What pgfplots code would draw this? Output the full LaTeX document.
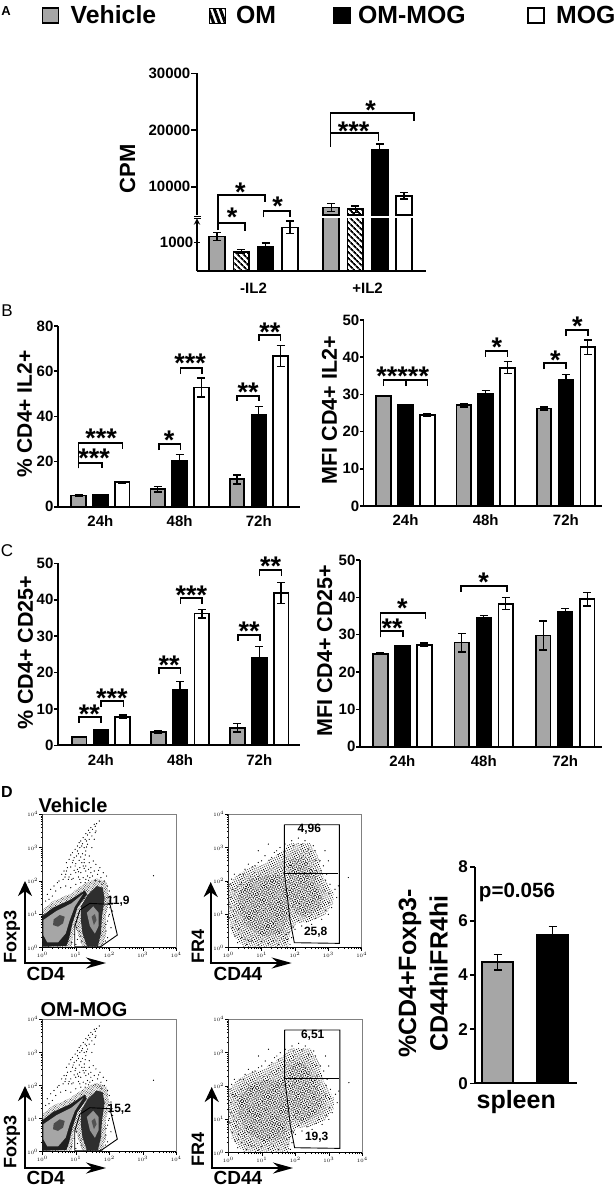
\documentclass[border=0pt]{standalone}
\usepackage{fontspec}
\setmainfont{Liberation Sans}
\usepackage{pgfplots}
\usepackage{pgfplotstable}
\pgfplotsset{compat=1.18}
\usetikzlibrary{patterns.meta,arrows.meta}
\definecolor{gBar}{gray}{0.65}
\newcommand\fs[1]{\fontsize{#1}{#1}\selectfont}
\newcommand\bfs[1]{\bfseries\fontsize{#1}{#1}\selectfont}
\pgfplotsset{
  pn/.style={anchor=south west, scale only axis, enlargelimits=false, clip=true,
    axis x line=bottom, axis y line=left, axis line style={-,line width=1.8pt,black},
    tick align=outside, major tick length=3.5pt, x tick style={draw=none},
    y tick style={black,line width=1.6pt}, scaled y ticks=false,
    ybar, /pgf/number format/assume math mode=true, /pgf/number format/1000 sep={},
    yticklabel style={font=\bfs{15}, inner sep=0.5pt},
    xticklabel style={font=\bfs{15}, yshift=-2pt},
    ylabel style={font=\bfs{21.5}, anchor=center},
  },
  eb/.style={/pgfplots/error bars/.cd, y dir=both, y explicit,
     error bar style={line width=1.3pt,black},
     error mark options={rotate=90,mark size=4pt,line width=1.3pt,black},/pgfplots/.cd},
  veh/.style={ybar, draw=black, line width=1.8pt, fill=gBar, eb},
  om/.style={ybar, draw=black, line width=1.8pt, pattern={Lines[angle=-45,distance=4pt,line width=1.8pt]}, pattern color=black, eb},
  omm/.style={ybar, draw=black, line width=1.8pt, fill=black, eb},
  mog/.style={ybar, draw=black, line width=1.8pt, fill=white, eb},
  flow/.style={anchor=south west, scale only axis, enlargelimits=false, clip=true,
    xmin=0,xmax=4,ymin=0,ymax=4, axis line style={gray,line width=.5pt},
    xtick={0,1,2,3,4}, ytick={0,1,2,3,4}, tick pos=left, tick align=outside,
    major tick length=3pt, minor tick length=1.5pt,
    tick style={black,line width=.5pt},
    minor xtick={0.301,0.477,0.602,0.699,0.778,0.845,0.903,0.954,1.301,1.477,1.602,1.699,1.778,1.845,1.903,1.954,2.301,2.477,2.602,2.699,2.778,2.845,2.903,2.954,3.301,3.477,3.602,3.699,3.778,3.845,3.903,3.954},
    minor ytick={0.301,0.477,0.602,0.699,0.778,0.845,0.903,0.954,1.301,1.477,1.602,1.699,1.778,1.845,1.903,1.954,2.301,2.477,2.602,2.699,2.778,2.845,2.903,2.954,3.301,3.477,3.602,3.699,3.778,3.845,3.903,3.954},
    xticklabels={$10^{0}$,$10^{1}$,$10^{2}$,$10^{3}$,$10^{4}$},
    yticklabels={$10^{0}$,$10^{1}$,$10^{2}$,$10^{3}$,$10^{4}$},
    tick label style={font=\fs{4.5}, inner sep=1pt},
  },
  dt/.style={only marks, mark=*, mark size=.33pt, black, mark options={draw=none,fill=black}},
}
% scattered events of the Foxp3/CD4 plots (decades)
\pgfplotstableread{
x y
1.7 3.8
1.62 3.72
1.55 3.7
1.58 3.64
1.45 3.6
1.5 3.55
1.38 3.52
1.42 3.45
1.3 3.42
1.35 3.38
1.22 3.3
1.28 3.25
1.15 3.2
1.1 3.15
1.2 3.12
1.05 3.05
1.12 3.0
0.98 2.95
0.9 2.85
1.05 2.9
0.85 2.78
0.95 2.7
1.02 2.75
0.8 2.65
0.72 2.55
0.9 2.55
1.1 2.62
1.2 2.82
1.3 2.9
0.75 2.4
0.85 2.42
0.65 2.3
0.98 2.45
1.12 2.4
1.25 2.55
1.4 2.75
1.48 3.0
1.35 3.1
1.18 2.55
0.58 2.2
0.7 2.2
0.85 2.2
1.0 2.25
1.15 2.25
1.3 2.3
1.45 2.4
1.6 2.5
1.75 2.1
1.85 2.0
1.92 2.15
1.65 2.2
1.5 2.15
1.35 2.15
0.5 2.0
0.45 1.95
0.62 2.05
0.78 2.05
0.92 2.08
1.08 2.12
1.22 2.1
1.38 2.02
1.58 2.02
1.72 1.98
1.95 1.85
2.0 1.7
2.05 1.5
2.08 1.3
2.1 1.1
2.0 1.0
1.95 0.8
2.05 0.6
1.9 0.5
1.95 0.3
0.35 1.85
0.25 1.75
0.15 1.6
0.3 1.55
3.32 2.16
0.1 1.4
0.2 1.45
0.4 1.7
0.55 1.8
0.7 1.85
0.85 1.8
1.0 1.9
1.15 1.95
1.28 1.95
1.42 2.1
1.78 1.9
2.0 1.4
2.02 1.2
1.98 0.95
1.9 0.7
1.88 0.2
1.0 0.1
1.05 0.25
0.95 0.4
1.1 0.5
1.02 0.6
1.18 0.2
1.15 0.35
0.88 0.15
0.98 0.7
1.25 2.65
1.4 2.55
1.05 2.35
1.22 2.45
0.88 2.05
1.32 3.2
1.55 3.25
1.6 3.5
1.48 3.35
1.18 3.05
1.25 3.0
1.32 3.02
1.08 2.82
1.15 2.72
1.28 2.78
0.92 2.62
1.0 2.52
1.3 2.45
1.52 2.6
0.95 2.32
1.08 2.28
1.25 2.38
1.38 2.35
1.55 2.3
0.72 2.3
0.8 2.12
0.68 2.12
1.12 2.05
1.3 2.05
1.45 2.25
1.68 2.32
1.82 2.25
1.72 2.4
1.58 3.45
1.4 3.25
}\fantable
% scattered events at the fringe of the FR4/CD44 plots (decades)
\pgfplotstableread{
x y
0.05 1.9
0.1 2.05
0.02 1.3
0.05 0.9
0.12 0.6
0.2 0.35
0.28 0.15
0.35 2.2
0.5 2.35
0.6 2.5
0.8 2.45
1.0 2.6
1.1 2.75
1.3 2.7
1.45 2.9
1.55 3.0
1.7 3.1
1.9 3.2
2.1 3.28
2.3 3.2
2.55 3.05
2.6 2.9
2.75 2.6
2.85 2.45
2.95 2.2
3.05 1.9
3.2 1.75
3.25 1.5
3.1 1.2
3.0 1.0
2.8 0.85
2.5 0.7
2.2 0.65
2.0 0.55
1.9 0.3
1.85 0.1
0.15 1.1
0.08 1.5
0.22 0.8
0.3 0.55
0.4 0.3
0.55 0.1
3.6 2.1
3.0 2.6
2.9 2.9
2.4 2.95
2.65 2.3
2.9 1.7
2.7 1.0
3.3 1.85
1.2 3.1
0.9 2.9
1.75 0.4
1.7 0.15
1.5 0.1
1.2 0.12
0.9 0.08
0.7 0.2
0.5 0.25
0.2 1.7
0.38 1.9
0.12 1.75
0.08 1.2
0.16 0.95
0.3 0.4
0.18 2.2
0.45 2.2
0.72 2.42
0.9 2.55
1.22 2.62
1.38 2.85
1.5 2.78
1.95 3.05
2.2 3.08
2.48 2.88
2.62 2.62
2.78 2.3
2.92 2.02
3.02 1.62
3.02 1.35
2.92 1.12
2.62 0.88
2.35 0.78
2.1 0.82
1.95 0.62
1.82 0.45
1.78 0.25
0.6 0.22
1.0 0.18
1.35 0.2
}\cloudtable
\newcommand\foxplot{%
  \addplot[draw=none,pattern={Dots[distance=1.5pt,radius=.44pt,angle=31]},pattern color=black] coordinates {(0,1.12)(.3,1.38)(.8,1.6)(1.25,1.9)(1.6,2.08)(1.92,1.98)(2.0,1.5)(1.9,.9)(1.9,.4)(1.8,.02)(1.2,.02)(1.05,.45)(.95,.7)(.88,.02)(0,.0)(0,1.12)};
  \addplot[draw=none,fill=black!88] coordinates {(0,.95)(.32,1.2)(.82,1.43)(1.27,1.72)(1.33,1.6)(1.05,1.2)(.9,.73)(.8,.28)(.72,.05)(0,.03)(0,.95)};
  \addplot[draw=none,fill=black!82] coordinates {(1.15,1.23)(1.35,1.58)(1.62,1.85)(1.8,1.8)(1.86,1.48)(1.78,.93)(1.75,.43)(1.66,.05)(1.33,.05)(1.2,.43)(1.15,.83)(1.15,1.23)};
  \addplot[draw=none,fill=black!35] coordinates {(.03,.83)(.42,1.1)(.87,1.33)(1.22,1.62)(.97,1.23)(.82,.83)(.70,.43)(.47,.16)(.15,.16)(.03,.38)(.03,.83)};
  \addplot[draw=none,fill=black!70] coordinates {(.34,.85)(.52,.98)(.67,.93)(.62,.73)(.47,.63)(.32,.68)(.34,.85)};
  \addplot[draw=none,fill=black!42] coordinates {(1.33,1.05)(1.52,1.24)(1.68,1.05)(1.68,.65)(1.57,.42)(1.42,.65)(1.33,1.05)};
  \addplot[draw=none,fill=black!68] coordinates {(1.47,.93)(1.57,1.01)(1.62,.83)(1.54,.68)(1.47,.93)};
  \addplot[dt] table[x=x,y=y] {\fantable};
  \addplot[black,line width=.9pt] coordinates {(.97,.03)(.97,.63)(1.12,1.13)(1.42,1.33)(2.02,1.30)(2.24,.38)(1.74,.03)(.97,.03)};
  \draw[black,line width=1.2pt] (axis cs:0,0)--(axis cs:0,4);
  \draw[black,line width=1pt] (axis cs:0,0)--(axis cs:4,0);
}
\newcommand\frplot{%
  \addplot[draw=none,pattern={Dots[distance=2.1pt,radius=.55pt,angle=23]},pattern color=black] coordinates {(0,1.83)(.25,2.18)(.65,2.38)(1.10,2.53)(1.60,2.88)(1.85,3.13)(2.45,3.13)(2.70,2.73)(2.85,2.13)(3.15,1.63)(3.15,1.33)(2.90,.98)(2.45,.78)(2.05,.73)(1.85,.43)(1.80,.03)(.45,.03)(.10,.43)(0,1.03)(0,1.83)};
  \addplot[draw=none,pattern={Dots[distance=2.7pt,radius=.45pt,angle=47]},pattern color=black] coordinates {(.15,1.75)(.45,2.15)(1.1,2.35)(1.6,2.6)(1.95,2.95)(2.4,2.95)(2.6,2.5)(2.95,1.7)(2.9,1.2)(2.3,.85)(1.9,.9)(1.72,.2)(.6,.15)(.2,.6)(.15,1.75)};
  \addplot[draw=none,pattern={Dots[distance=2.3pt,radius=.48pt,angle=61]},pattern color=black] coordinates {(.30,1.63)(.65,2.03)(1.15,2.18)(1.65,2.18)(1.75,1.63)(1.80,1.03)(1.65,.43)(1.05,.33)(.55,.63)(.30,1.13)(.30,1.63)};
  \addplot[draw=none,pattern={Dots[distance=2.4pt,radius=.48pt,angle=71]},pattern color=black] coordinates {(1.80,2.63)(2.25,2.73)(2.60,2.23)(2.80,1.53)(2.75,1.18)(2.25,.93)(2.00,1.03)(1.80,1.53)(1.80,2.63)};
  \addplot[dt] table[x=x,y=y] {\cloudtable};
  \addplot[black,line width=.9pt] coordinates {(1.68,3.68)(3.33,3.68)(3.33,.13)(1.98,.15)(1.85,.83)(1.77,1.53)(1.68,2.23)(1.68,3.68)};
  \addplot[black,line width=.9pt] coordinates {(1.68,2.23)(3.30,2.23)};
  \draw[black,line width=1.2pt] (axis cs:0,0)--(axis cs:0,4);
  \draw[black,line width=1pt] (axis cs:0,0)--(axis cs:4,0);
}
\newcommand\br[5]{\draw[line width=1.7pt,black] (#1,#4)--(#1,#3)--(#2,#3)--(#2,#5);}
\newcommand\st[3]{\node[anchor=base,inner sep=0pt,yshift=-13.5pt,font=\bfs{27}] at (#1,#2) {#3};}
\begin{document}
\begin{tikzpicture}
\useasboundingbox (0pt,0pt) rectangle (614pt,-1189pt);
\fill[white] (0pt,0pt) rectangle (614pt,-1189pt);

%%% Panel A
\begin{axis}[pn, at={(197pt,-271pt)}, width=228.5pt, height=52.7pt, major tick length=6pt,
  xmin=-0.4952, xmax=1.5074, ymin=0, ymax=1838, bar width=15.8pt,
  xtick={0,1}, xticklabels={-IL2,+IL2}, ytick={1000}, axis y line=left]
\addplot[veh, bar shift=-36.45pt] coordinates {(0,1200) +- (0,140) (1,6320) +- (0,740)};
\addplot[om,  bar shift=-12.15pt] coordinates {(0,675) +- (0,70) (1,6020) +- (0,600)};
\addplot[omm, bar shift=12.15pt]  coordinates {(0,850) +- (0,130) (1,16530) +- (0,1000)};
\addplot[mog, bar shift=36.45pt]  coordinates {(0,1520) +- (0,220) (1,8400) +- (0,560)};
\end{axis}
\begin{axis}[pn, at={(197pt,-215pt)}, width=228.5pt, height=141.7pt, major tick length=6pt,
  xmin=-0.4952, xmax=1.5074, ymin=5009, ymax=30000, bar width=15.8pt,
  axis x line=none, ytick={10000,20000,30000},
  ylabel={CPM}, ylabel style={font=\bfs{22},at={(axis description cs:-0.304,0.3246)}}]
\addplot[veh, bar shift=-36.45pt] coordinates {(1,6320) +- (0,740)};
\addplot[om,  bar shift=-12.15pt] coordinates {(1,6020) +- (0,600)};
\addplot[omm, bar shift=12.15pt]  coordinates {(1,16530) +- (0,1000)};
\addplot[mog, bar shift=36.45pt]  coordinates {(1,8400) +- (0,560)};
\end{axis}

%%% Panel B left
\begin{axis}[pn, at={(57.6pt,-506.7pt)}, width=242.4pt, height=180.7pt,
  xmin=-0.5404, xmax=2.5202, ymin=0, ymax=80, bar width=14.7pt,
  xtick={0,1,2}, xticklabels={24h,48h,72h}, ytick={0,20,40,60,80},
  ylabel={\% CD4+ IL2+}, ylabel style={font=\bfs{21},at={(axis description cs:-0.1357,0.5127)}}]
\addplot[veh, bar shift=-21.8pt] coordinates {(0,5.0) +- (0,0.2) (1,7.7) +- (0,1.2) (2,12.1) +- (0,2)};
\addplot[omm, bar shift=0pt] coordinates {(0,5.3) +- (0,0.2) (1,20.2) +- (0,2.8) (2,40.6) +- (0,3.8)};
\addplot[mog, bar shift=21.8pt] coordinates {(0,10.8) +- (0,0.5) (1,52.8) +- (0,4.2) (2,66.7) +- (0,4.6)};
\end{axis}
%%% Panel B right
\begin{axis}[pn, at={(363.5pt,-506pt)}, width=238.5pt, height=186pt,
  xmin=-0.5237, xmax=2.450, ymin=0, ymax=50, bar width=14.7pt,
  xtick={0,1,2}, xticklabels={24h,48h,72h}, ytick={0,10,20,30,40,50},
  ylabel={MFI CD4+ IL2+}, ylabel style={at={(axis description cs:-0.143,0.516)}}]
\addplot[veh, bar shift=-21.9pt] coordinates {(0,29.6) +- (0,0.1) (1,27.15) +- (0,0.5) (2,26.2) +- (0,0.4)};
\addplot[omm, bar shift=0pt] coordinates {(0,27.15) +- (0,0.1) (1,30.1) +- (0,1) (2,33.9) +- (0,1.4)};
\addplot[mog, bar shift=21.9pt] coordinates {(0,24.55) +- (0,0.4) (1,37.2) +- (0,1.6) (2,42.7) +- (0,1.9)};
\end{axis}

%%% Panel C left
\begin{axis}[pn, at={(57.6pt,-745.3pt)}, width=242.4pt, height=182pt,
  xmin=-0.5466, xmax=2.514, ymin=0, ymax=50, bar width=14.7pt,
  xtick={0,1,2}, xticklabels={24h,48h,72h}, ytick={0,10,20,30,40,50},
  ylabel={\% CD4+ CD25+}, ylabel style={at={(axis description cs:-0.1324,0.508)}}]
\addplot[veh, bar shift=-21.8pt] coordinates {(0,2.2) +- (0,0.1) (1,3.66) +- (0,0.4) (2,4.85) +- (0,1.2)};
\addplot[omm, bar shift=0pt] coordinates {(0,4.2) +- (0,0.15) (1,15.3) +- (0,2.2) (2,24) +- (0,3.1)};
\addplot[mog, bar shift=21.8pt] coordinates {(0,7.8) +- (0,0.5) (1,36.2) +- (0,1.2) (2,41.9) +- (0,2.9)};
\end{axis}
%%% Panel C right
\begin{axis}[pn, at={(359.6pt,-746.7pt)}, width=242.4pt, height=186.7pt,
  xmin=-0.5258, xmax=2.452, ymin=0, ymax=50, bar width=14.7pt,
  xtick={0,1,2}, xticklabels={24h,48h,72h}, ytick={0,10,20,30,40,50},
  ylabel={MFI CD4+ CD25+}, ylabel style={at={(axis description cs:-0.144,0.514)}}]
\addplot[veh, bar shift=-22pt] coordinates {(0,24.9) +- (0,0.25) (1,27.9) +- (0,2.5) (2,29.8) +- (0,3.9)};
\addplot[omm, bar shift=0pt] coordinates {(0,26.96) +- (0,0.15) (1,34.6) +- (0,0.5) (2,36.2) +- (0,0.8)};
\addplot[mog, bar shift=22pt] coordinates {(0,27.3) +- (0,0.5) (1,38.3) +- (0,1.6) (2,39.5) +- (0,1.8)};
\end{axis}

%%% Panel D bar chart
\begin{axis}[pn, at={(475pt,-1083.3pt)}, width=101.7pt, height=216.6pt, major tick length=5pt,
  xmin=-0.502, xmax=0.515, ymin=0, ymax=8, bar width=30.7pt,
  xtick={0}, xticklabels={spleen}, ytick={0,2,4,6,8},
  yticklabel style={font=\bfs{17},inner sep=2pt},
  xticklabel style={font=\bfs{25},xshift=-9pt,yshift=3pt},
  ylabel={%
    \begin{tabular}{@{}c@{}}\%CD4+Foxp3-\\[6pt]CD44hiFR4hi\end{tabular}},
  ylabel style={font=\bfs{25},at={(axis description cs:-0.473,0.507)}}]
\addplot[veh, bar shift=-27.5pt] coordinates {(0,4.47) +- (0,0.28)};
\addplot[omm, bar shift=27.5pt] coordinates {(0,5.48) +- (0,0.3)};
\end{axis}

%%% Panel D flow plots
\begin{axis}[flow, at={(42.3pt,-947.7pt)}, width=134pt, height=133.4pt] \foxplot \end{axis}
\begin{axis}[flow, at={(228.3pt,-947.7pt)}, width=133.4pt, height=133.7pt] \frplot \end{axis}
\begin{axis}[flow, at={(42.3pt,-1151.7pt)}, width=134pt, height=132.4pt] \foxplot \end{axis}
\begin{axis}[flow, at={(228.3pt,-1152.7pt)}, width=134pt, height=133.4pt] \frplot \end{axis}

%%% annotations, coordinates in px from the top left
\begin{scope}[x=1pt,y=-1pt]
  % legend
  \draw[line width=1.5pt,fill=gBar] (42.5,8) rectangle (58.5,23);
  \node[anchor=west,inner sep=0pt,font=\bfs{24.8}] at (70.5,15) {Vehicle};
  \draw[line width=1pt,pattern={Lines[angle=-70,distance=5.5pt,line width=3pt]},pattern color=black] (209.5,8) rectangle (225.5,23);
  \node[anchor=west,inner sep=0pt,font=\bfs{24.8}] at (236,15) {OM};
  \fill[black] (333,7) rectangle (351,24);
  \node[anchor=west,inner sep=0pt,font=\bfs{24.8}] at (358,15) {OM-MOG};
  \draw[line width=1.5pt,fill=white] (528,8) rectangle (544,23);
  \node[anchor=west,inner sep=0pt,font=\bfs{24.8}] at (556,15) {MOG};
  % panel letters
  \node[inner sep=0pt,font=\bfs{13}] at (6,11) {A};
  \node[inner sep=0pt,font=\fs{17}] at (7,311) {B};
  \node[inner sep=0pt,font=\fs{17}] at (7,551) {C};
  \node[inner sep=0pt,font=\bfs{16}] at (7,792) {D};
  % axis break
  \draw[line width=1pt] (194,216.7)--(201,216.7) (194,218.9)--(201,218.9);
  % D texts
  \node[inner sep=0pt,font=\bfs{20}] at (73,805) {Vehicle};
  \node[inner sep=0pt,font=\bfs{20}] at (84,1010) {OM-MOG};
  \node[inner sep=0pt,font=\bfs{20.6},anchor=center] at (517,892) {p=0.056};
  \foreach \yy/\xa/\xb/\xc/\xd/\ya/\lf/\ld/\lb in {963/25/106/210.7/291.7/881/937/946.7/974, 1168/25/106/211.7/293/1086/1142/1149/1178}{
    \draw[line width=2.2pt,-{Stealth[length=15pt,width=14pt]}] (\xa,\yy)--(\xa,\ya);
    \draw[line width=2.2pt,-{Stealth[length=20pt,width=11pt]}] (\xa-1,\yy)--(\xb,\yy);
    \draw[line width=2.2pt,-{Stealth[length=15pt,width=14pt]}] (\xc,\yy)--(\xc,\ya+1);
    \draw[line width=2.2pt,-{Stealth[length=20pt,width=11pt]}] (\xc-1,\yy)--(\xd,\yy);
    \node[rotate=90,inner sep=0pt,font=\bfs{18}] at (12,\lf) {Foxp3};
    \node[rotate=90,inner sep=0pt,font=\bfs{18}] at (198,\ld) {FR4};
    \node[inner sep=0pt,font=\bfs{19}] at (45.7,\lb) {CD4};
    \node[inner sep=0pt,font=\bfs{19}] at (238,\lb) {CD44};
  }
  \node[inner sep=0pt,font=\bfs{12}] at (118.3,901) {11,9};
  \node[inner sep=0pt,font=\bfs{12}] at (309.3,829.3) {4,96};
  \node[inner sep=0pt,font=\bfs{12}] at (315.7,932.3) {25,8};
  \node[inner sep=0pt,font=\bfs{12}] at (119.3,1109) {15,2};
  \node[inner sep=0pt,font=\bfs{12}] at (312.7,1035) {6,51};
  \node[inner sep=0pt,font=\bfs{12}] at (316.7,1137.7) {19,3};
\end{scope}

% Panel A brackets (zoom units)
\begin{scope}[x=0.39216pt,y=-0.33333pt]
  \br{556}{625}{668}{690}{692} \st{592}{640}{*}
  \br{556}{675}{585}{690}{605} \st{613}{565}{*}
  \br{672}{740}{632}{652}{652} \st{708}{607}{*}
  \br{843}{1055}{339}{440}{362} \st{945}{317}{*}
  \br{843}{965}{400}{440}{422} \st{902}{380}{***}
\end{scope}
% Panel B brackets
\begin{scope}[shift={(0pt,-300pt)},x=0.39216pt,y=-0.33333pt]
  \br{200}{312}{430}{505}{448} \st{258}{403}{***}
  \br{200}{260}{490}{505}{505} \st{240}{463}{***}
  \br{405}{460}{432}{450}{450} \st{431}{408}{*}
  \br{460}{515}{205}{222}{222} \st{485}{178}{***}
  \br{605}{660}{288}{302}{302} \st{633}{263}{**}
  \br{660}{715}{106}{122}{122} \st{688}{83}{**}
  \br{978}{1034}{240}{258}{258}
  \br{1036}{1090}{240}{258}{258} \st{1027}{215}{*****}
  \br{1238}{1294}{152}{170}{170} \st{1267}{130}{*}
  \br{1388}{1443}{190}{207}{207} \st{1416}{167}{*}
  \br{1443}{1500}{90}{107}{107} \st{1472}{67}{*}
\end{scope}
% Panel C brackets
\begin{scope}[shift={(0pt,-540pt)},x=0.39216pt,y=-0.33333pt]
  \br{201}{258}{532}{548}{548} \st{228}{510}{**}
  \br{258}{315}{483}{500}{500} \st{285}{462}{***}
  \br{405}{460}{385}{402}{402} \st{431}{362}{**}
  \br{460}{515}{174}{191}{191} \st{488}{152}{***}
  \br{607}{663}{285}{302}{302} \st{635}{262}{**}
  \br{662}{718}{90}{107}{107} \st{690}{67}{**}
  \br{970}{1028}{272}{292}{290} \st{1000}{253}{**}
  \br{970}{1085}{218}{292}{237} \st{1026}{192}{*}
  \br{1175}{1292}{137}{155}{155} \st{1233}{115}{*}
\end{scope}
\end{tikzpicture}
\end{document}
